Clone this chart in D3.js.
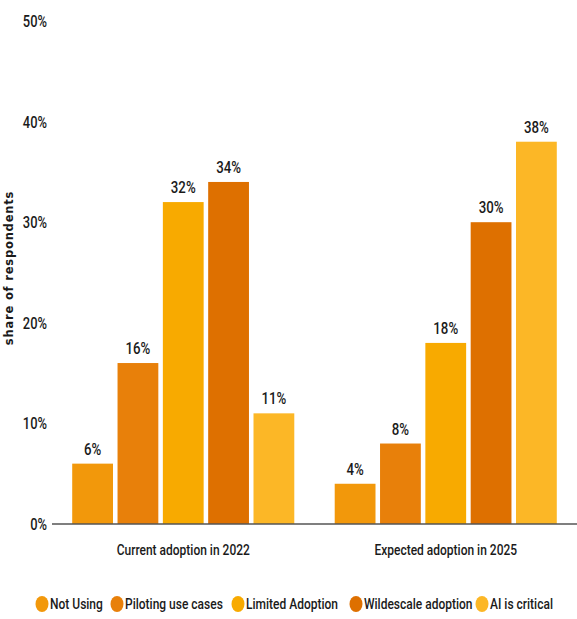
<!DOCTYPE html>
<html lang="en">
<head>
    <script src="https://unpkg.com/d3@7/dist/d3.min.js"></script>
    <style>
        body { margin: 0; background: #fff; }
        svg text { font-family: Roboto, "Liberation Sans", sans-serif; font-weight: 500; fill: #1a1a1a; }
    </style>
</head>
<body>
    <div id="chart"></div>
    <script>
        const groups = ["Current adoption in 2022", "Expected adoption in 2025"];
        const series = ["Not Using", "Piloting use cases", "Limited Adoption", "Wildescale adoption", "AI is critical"];
        const values2022 = [6, 16, 32, 34, 11];
        const values2025 = [4, 8, 18, 30, 38];
        const colors = ["#f2980b", "#e8800a", "#f8aa00", "#de7000", "#fcb726"];
        const yTicks = [0, 10, 20, 30, 40, 50];

        const width = 577, height = 619;
        const mLeft = 52, mRight = 577, mTop = 21, mBase = 524;
        const squeeze = 0.8; // condensed look

        const data = [];
        groups.forEach((g, gi) => {
            const vals = gi === 0 ? values2022 : values2025;
            series.forEach((s, si) => data.push({ group: g, series: s, value: vals[si] }));
        });

        const svg = d3.select("#chart").append("svg")
            .attr("width", width)
            .attr("height", height);

        const x0 = d3.scaleBand().domain(groups).range([mLeft, mRight])
            .paddingInner(0.154).paddingOuter(0.077);
        const x1 = d3.scaleBand().domain(series).range([0, x0.bandwidth()])
            .paddingInner(0.1).paddingOuter(0);
        const y = d3.scaleLinear().domain([0, 50]).range([mBase, mTop]);
        const color = d3.scaleOrdinal().domain(series).range(colors);

        const at = (x, yy, s) => `translate(${x},${yy}) scale(${s || squeeze},1)`;

        // y tick labels (no axis line)
        svg.append("g")
            .selectAll("text")
            .data(yTicks)
            .join("text")
            .attr("transform", d => at(47, y(d), 0.76))
            .attr("dy", "0.35em")
            .attr("text-anchor", "end")
            .style("font-size", "17px")
            .text(d => d + "%");

        // y title
        svg.append("text")
            .attr("transform", "translate(13,268) rotate(-90)")
            .attr("text-anchor", "middle")
            .style("font-family", "DejaVu Sans, sans-serif")
            .style("font-weight", "bold")
            .style("font-size", "11.5px")
            .style("letter-spacing", "0.8px")
            .text("share of respondents");

        // bars
        const bars = svg.append("g");
        bars.selectAll("rect")
            .data(data)
            .join("rect")
            .attr("x", d => x0(d.group) + x1(d.series))
            .attr("y", d => y(d.value))
            .attr("width", x1.bandwidth())
            .attr("height", d => y(0) - y(d.value))
            .attr("fill", d => color(d.series));

        bars.selectAll("text")
            .data(data)
            .join("text")
            .attr("transform", d => at(x0(d.group) + x1(d.series) + x1.bandwidth() / 2, y(d.value) - 9, 0.78))
            .attr("text-anchor", "middle")
            .style("font-size", "17px")
            .text(d => d.value + "%");

        // baseline
        svg.append("line")
            .attr("x1", mLeft).attr("x2", mRight)
            .attr("y1", y(0)).attr("y2", y(0))
            .attr("stroke", "#555")
            .attr("stroke-width", 1.5);

        // group labels
        svg.append("g")
            .selectAll("text")
            .data(groups)
            .join("text")
            .attr("transform", d => at(x0(d) + x0.bandwidth() / 2, 555))
            .attr("text-anchor", "middle")
            .style("font-size", "15px")
            .text(d => d);

        // legend
        const legendX = [42, 117, 238, 356, 482];
        const legend = svg.append("g")
            .selectAll("g")
            .data(series)
            .join("g")
            .attr("transform", (d, i) => `translate(${legendX[i]},604)`);
        legend.append("ellipse")
            .attr("rx", 6.5).attr("ry", 8)
            .attr("fill", d => color(d));
        legend.append("text")
            .attr("transform", at(8, 0))
            .attr("dy", "0.35em")
            .style("font-size", "15px")
            .text(d => d);
    </script>
</body>
</html>
